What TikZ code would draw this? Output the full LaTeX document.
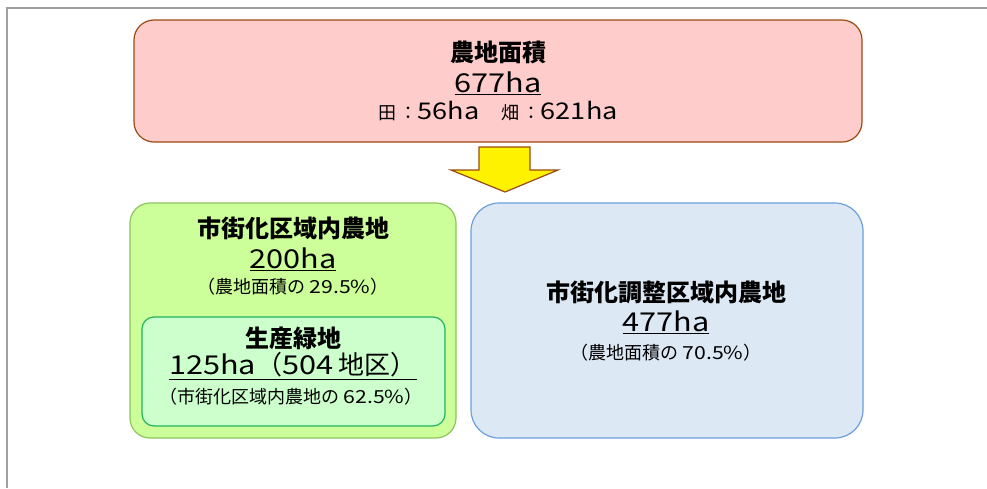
\documentclass[tikz,border=0pt]{standalone}
\usepackage{fontspec}
\setmainfont{Noto Sans CJK JP}
\newfontfamily\latfont[FakeStretch=1.18]{Noto Sans CJK JP}
\newcommand\lat[1]{{\latfont #1}}
\usetikzlibrary{positioning}

\definecolor{farmpink}{HTML}{FFCCCC}
\definecolor{farmbrown}{HTML}{9A4A10}
\definecolor{urbanfill}{HTML}{CCFF99}
\definecolor{urbanedge}{HTML}{8EC45C}
\definecolor{greenfill}{HTML}{CCFFCC}
\definecolor{greenedge}{HTML}{22B35E}
\definecolor{ctrlfill}{HTML}{DDE8F5}
\definecolor{ctrledge}{HTML}{6A9FDB}
\definecolor{framegray}{HTML}{A0A0A0}

\begin{document}
\begin{tikzpicture}[x=1pt,y=-1pt,
    box/.style={rectangle,rounded corners=20pt,draw,line width=1.2pt,inner sep=0pt},
    title/.style={font=\fontsize{24}{26}\selectfont\bfseries,inner sep=0pt},
    area/.style={font=\fontsize{26}{28}\selectfont,inner sep=0pt},
    share/.style={font=\fontsize{18}{20}\selectfont,inner sep=0pt}
]
\useasboundingbox (0,0) rectangle (987,488);
\draw[framegray,line width=2pt] (7,488) -- (7,8) -- (987,8);

% boxes
\node[box,fill=farmpink,draw=farmbrown,minimum width=728pt,minimum height=122pt] (total) at (498,81) {};
\node[box,fill=urbanfill,draw=urbanedge,minimum width=326pt,minimum height=235pt] (urban) at (293,320.5) {};
\node[box,fill=greenfill,draw=greenedge,rounded corners=12pt,minimum width=303pt,minimum height=109pt] (green) at (293.5,371.5) {};
\node[box,fill=ctrlfill,draw=ctrledge,rounded corners=28pt,minimum width=392pt,minimum height=235pt] (ctrl) at (667,320.5) {};

% arrow
\coordinate (tip) at (505,192);
\draw[farmbrown,fill=yellow,line width=1.2pt,line join=miter]
    (479,147) -- (530,147) -- (530,170) -- (558,170) -- (tip)
    -- (451,170) -- (479,170) -- cycle;

% texts
\node[title] (totalT) at (498,52) {農地面積};
\node[area]  (totalA) at (498,83) {\underline{\lat{677ha}}};
\node[share,font=\fontsize{18}{21}\selectfont] (totalS) at (498,111)
    {田\hspace{0.2em}：\lat{\fontsize{23}{25}\selectfont 56ha}\hspace{1.2em}畑\hspace{0.2em}：\lat{\fontsize{23}{25}\selectfont 621ha}};

\node[title] (urbanT) at (293,228) {市街化区域内農地};
\node[area]  (urbanA) at (293,259) {\underline{\lat{200ha}}};
\node[share] (urbanS) at (293,287) {（農地面積の \lat{29.5\%}）};

\node[title] (greenT) at (293,338) {生産緑地};
\node[area]  (greenA) at (293,366) {\underline{\lat{125ha}（\lat{504} 地区）}};
\node[share] (greenS) at (291,397) {（市街化区域内農地の \lat{62.5\%}）};

\node[title] (ctrlT) at (666,292) {市街化調整区域内農地};
\node[area]  (ctrlA) at (666,322) {\underline{\lat{477ha}}};
\node[share] (ctrlS) at (666,353) {（農地面積の \lat{70.5\%}）};
\end{tikzpicture}
\end{document}
